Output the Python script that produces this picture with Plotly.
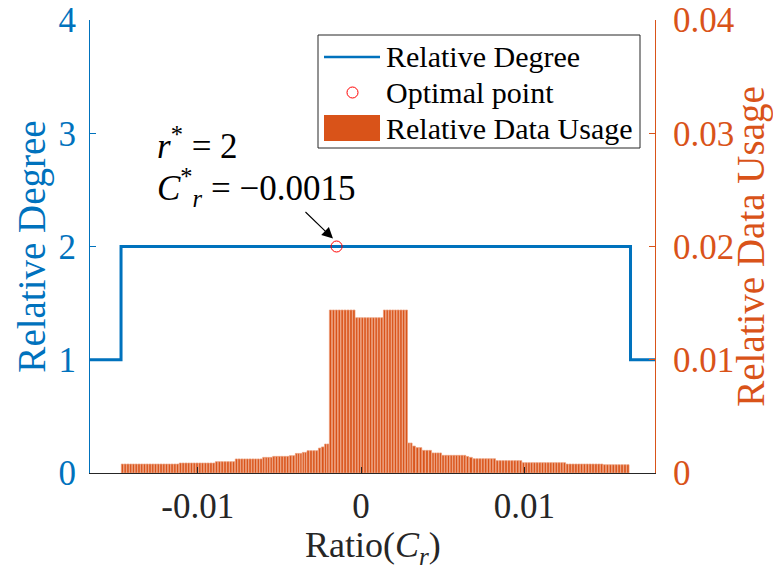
import plotly.graph_objects as go

# ---------------- data ----------------
# Relative degree (step function, left axis)
deg_x = [-0.0166, -0.0147, 0.0165, 0.0180]
deg_y = [1, 2, 1, 1]

# Optimal point
opt_x = [-0.0015]
opt_y = [2]

# Relative data usage: runs of equal-height histogram bars (right axis)
seg_edges = [-0.0147, -0.01115, -0.00894, -0.00772, -0.00604, -0.00543, -0.00441,
             -0.00404, -0.00361, -0.00333, -0.00263, -0.00245, -0.00225, -0.00196,
             -0.00035, 0.00135, 0.00286, 0.00314, 0.00335, 0.00374, 0.00433,
             0.00494, 0.00643, 0.00661, 0.00684, 0.00825, 0.00986, 0.01254,
             0.01482, 0.01643]
seg_usage = [0.00079, 0.00088, 0.00100, 0.00124, 0.00138, 0.00147, 0.00153,
             0.00173, 0.00182, 0.00197, 0.00220, 0.00230, 0.00256, 0.01439,
             0.01371, 0.01439, 0.00265, 0.00238, 0.00224, 0.00200, 0.00177,
             0.00156, 0.00146, 0.00138, 0.00126, 0.00109, 0.00091, 0.00079,
             0.00073]
bin_width = 0.00017

x_ticks = [-0.01, 0, 0.01]
x_ticktext = ["-0.01", "0", "0.01"]
y_ticks = [0, 1, 2, 3, 4]
y2_ticks = [0, 0.01, 0.02, 0.03, 0.04]
y2_ticktext = ["0", "0.01", "0.02", "0.03", "0.04"]

BLUE = "#0072BD"
ORANGE = "#D95319"
LIGHT_ORANGE = "#EC9C78"
DARK = "#262626"
FONT = "Liberation Serif"

# expand runs into individual thin bars
bx, bw, bh = [], [], []
for i, h in enumerate(seg_usage):
    a, b = seg_edges[i], seg_edges[i + 1]
    n = max(1, round((b - a) / bin_width))
    w = (b - a) / n
    for k in range(n):
        bx.append(a + (k + 0.5) * w)
        bw.append(w * 0.78)
        bh.append(h)

fig = go.Figure()
fig.add_trace(go.Scatter(x=deg_x, y=deg_y, mode="lines", line=dict(color=BLUE, width=3, shape="hv"),
                         name="Relative Degree", showlegend=False, yaxis="y"))
fig.add_trace(go.Scatter(x=opt_x, y=opt_y, mode="markers",
                         marker=dict(symbol="circle-open", size=11, color="#FF0000", line=dict(width=1)),
                         name="Optimal point", showlegend=False, yaxis="y"))
fig.add_trace(go.Bar(x=bx, y=bh, width=bw,
                     marker=dict(color=ORANGE, line=dict(width=0.7, color=LIGHT_ORANGE)),
                     name="Relative Data Usage", showlegend=False, yaxis="y2"))

# page geometry (body margin removed below, so page pixels = figure pixels)
W, H = 773, 567
PL, PR, PT, PB = 90, 655, 20, 473  # plot area in pixels
L, T = PL, PT
R = W - PR
B = H - PB
pw, ph = PR - PL, PB - PT


def px(xp):
    return (xp - PL) / pw


def py(yp):
    return (PB - yp) / ph


shapes = []
annotations = []
# legend box
shapes.append(dict(type="rect", xref="paper", yref="paper", x0=px(318), x1=px(640), y0=py(148), y1=py(35),
                   line=dict(color=DARK, width=1), fillcolor="white", layer="above"))
shapes.append(dict(type="line", xref="paper", yref="paper", x0=px(324), x1=px(380), y0=py(57), y1=py(57),
                   line=dict(color=BLUE, width=2.5), layer="above"))
shapes.append(dict(type="circle", xref="paper", yref="paper", x0=px(347), x1=px(358), y0=py(87), y1=py(98),
                   line=dict(color="#FF0000", width=1), layer="above"))
shapes.append(dict(type="rect", xref="paper", yref="paper", x0=px(324), x1=px(380), y0=py(141), y1=py(115),
                   line=dict(width=0), fillcolor=ORANGE, layer="above"))
for txt, yy in [("Relative Degree", 57), ("Optimal point", 92), ("Relative Data Usage", 128)]:
    annotations.append(dict(xref="paper", yref="paper", x=px(384), y=py(yy), text=txt, showarrow=False,
                            xanchor="left", yanchor="middle", font=dict(family=FONT, size=30, color="black")))

# optimal point annotation
annotations.append(dict(xref="paper", yref="paper", x=px(155), y=py(143), text="<i>r</i><sup>*</sup> = 2",
                        showarrow=False, xanchor="left", yanchor="middle",
                        font=dict(family=FONT, size=35, color="black")))
annotations.append(dict(xref="paper", yref="paper", x=px(155), y=py(187),
                        text="<i>C</i><sup>*</sup><sub><i>r</i></sub> = \u22120.0015",
                        showarrow=False, xanchor="left", yanchor="middle",
                        font=dict(family=FONT, size=35, color="black")))
annotations.append(dict(xref="x", yref="y", x=-0.00172, y=2.07, text="", showarrow=True,
                        ax=-29, ay=-28, axref="pixel", ayref="pixel",
                        arrowhead=2, arrowsize=2, arrowwidth=1.1, arrowcolor="black"))
# x-axis title
annotations.append(dict(xref="paper", yref="paper", x=0.5, y=py(547),
                        text="Ratio(<i>C</i><sub><i>r</i></sub>)", showarrow=False,
                        xanchor="center", yanchor="middle",
                        font=dict(family=FONT, size=36, color=DARK)))

fig.update_layout(
    width=W, height=H,
    margin=dict(l=L, r=R, t=T, b=B, autoexpand=False),
    paper_bgcolor="white", plot_bgcolor="white",
    barmode="overlay",
    showlegend=False,
    font=dict(family=FONT, size=35, color=DARK),
    xaxis=dict(range=[-0.0166, 0.0180], tickvals=x_ticks, ticktext=x_ticktext,
               ticks="inside", ticklen=6, tickcolor=DARK, showline=True, linecolor=DARK, linewidth=1,
               showgrid=False, zeroline=False, tickfont=dict(family=FONT, size=35, color=DARK),
               ticklabelstandoff=2, ticklabeloverflow="allow"),
    yaxis=dict(range=[0, 4], tickvals=y_ticks, ticks="inside", ticklen=6, tickcolor=BLUE,
               showline=True, linecolor=BLUE, linewidth=1, showgrid=False, zeroline=False,
               tickfont=dict(family=FONT, size=35, color=BLUE), ticklabelstandoff=6,
               ticklabeloverflow="allow",
               title=dict(text="Relative Degree", font=dict(family=FONT, size=39, color=BLUE), standoff=0)),
    yaxis2=dict(range=[0, 0.04], tickvals=y2_ticks, ticktext=y2_ticktext, overlaying="y", side="right",
                ticks="inside", ticklen=6, tickcolor=ORANGE, showline=True, linecolor=ORANGE, linewidth=1,
                showgrid=False, zeroline=False, tickfont=dict(family=FONT, size=35, color=ORANGE),
                ticklabelstandoff=10, ticklabeloverflow="allow",
                title=dict(text="Relative Data Usage", font=dict(family=FONT, size=39, color=ORANGE), standoff=2)),
    shapes=shapes,
    annotations=annotations,
)

fig.write_html("out.html", config={"displayModeBar": False},
               post_script="document.body.style.margin='0px';")
